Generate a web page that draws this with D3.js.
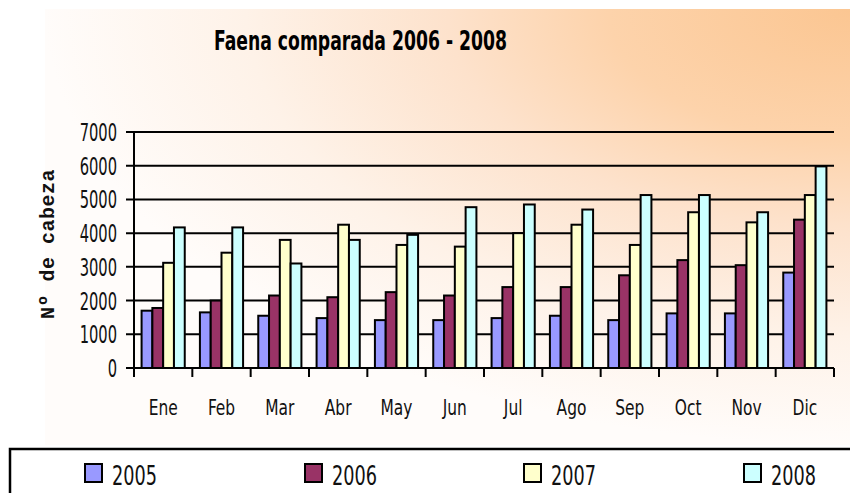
<!DOCTYPE html>
<html>
<head>
<meta charset="utf-8">
<style>
  body { margin: 0; background: #fff; }
  svg { display: block; }
  .narrow { font-family: "Liberation Sans Narrow", "DejaVu Sans Condensed", "Liberation Sans", sans-serif; }
</style>
</head>
<body>
<script src="https://d3js.org/d3.v7.min.js"></script>
<script>
// data
var months = ["Ene", "Feb", "Mar", "Abr", "May", "Jun", "Jul", "Ago", "Sep", "Oct", "Nov", "Dic"];
var years = ["2005", "2006", "2007", "2008"];
var v2005 = [1700, 1650, 1550, 1480, 1420, 1420, 1480, 1550, 1420, 1620, 1620, 2830];
var v2006 = [1780, 2000, 2150, 2100, 2250, 2150, 2400, 2400, 2750, 3200, 3050, 4400];
var v2007 = [3120, 3420, 3800, 4250, 3650, 3600, 4000, 4250, 3650, 4620, 4320, 5130];
var v2008 = [4170, 4170, 3100, 3800, 3950, 4770, 4850, 4700, 5130, 5130, 4620, 5980];
var yTicks = [0, 1000, 2000, 3000, 4000, 5000, 6000, 7000];
var colors = ["#9999ff", "#993366", "#ffffcc", "#ccffff"];

var series = [v2005, v2006, v2007, v2008];

var W = 850, H = 493;
var svg = d3.select("body").append("svg")
    .attr("width", W)
    .attr("height", H);

// background gradient (orange in the top right corner)
var defs = svg.append("defs");
var grad = defs.append("radialGradient")
    .attr("id", "bg")
    .attr("cx", 1).attr("cy", 0).attr("r", 1)
    .attr("fx", 1).attr("fy", 0);
grad.append("stop").attr("offset", 0).attr("stop-color", "#fbc692");
grad.append("stop").attr("offset", 0.3).attr("stop-color", "#fdd3ab");
grad.append("stop").attr("offset", 0.5).attr("stop-color", "#fde2cc");
grad.append("stop").attr("offset", 0.75).attr("stop-color", "#fef2e8");
grad.append("stop").attr("offset", 1).attr("stop-color", "#fffcfa");

svg.append("rect")
    .attr("x", 45).attr("y", 9)
    .attr("width", W - 45).attr("height", 436)
    .attr("fill", "url(#bg)");

// scales
var x0 = d3.scaleBand()
    .domain(months)
    .range([134, 834])
    .paddingInner(0.26)
    .paddingOuter(0.13);
var x1 = d3.scaleBand()
    .domain(years)
    .range([0, x0.bandwidth()]);
var y = d3.scaleLinear()
    .domain([0, 7000])
    .range([368, 132]);

var step = x0.step();

// gridlines
svg.append("g").selectAll("line")
    .data(yTicks)
    .enter().append("line")
    .attr("x1", 126).attr("x2", 834)
    .attr("y1", function(d) { return y(d); })
    .attr("y2", function(d) { return y(d); })
    .attr("stroke", "#000")
    .attr("stroke-width", 2);

// bars
var groups = svg.append("g").selectAll("g")
    .data(months)
    .enter().append("g")
    .attr("transform", function(d) { return "translate(" + x0(d) + ",0)"; });

groups.selectAll("rect")
    .data(function(d, i) {
        return years.map(function(yr, k) { return { year: yr, value: series[k][i], k: k }; });
    })
    .enter().append("rect")
    .attr("x", function(d) { return x1(d.year); })
    .attr("y", function(d) { return y(d.value); })
    .attr("width", x1.bandwidth())
    .attr("height", function(d) { return y(0) - y(d.value); })
    .attr("fill", function(d) { return colors[d.k]; })
    .attr("stroke", "#000")
    .attr("stroke-width", 2);

// y axis line + category ticks
svg.append("line")
    .attr("x1", 134).attr("x2", 134)
    .attr("y1", y(7000)).attr("y2", y(0) + 9)
    .attr("stroke", "#000").attr("stroke-width", 2);

svg.append("g").selectAll("line")
    .data(d3.range(months.length + 1))
    .enter().append("line")
    .attr("x1", function(i) { return 134 + i * step; })
    .attr("x2", function(i) { return 134 + i * step; })
    .attr("y1", y(0)).attr("y2", y(0) + 9)
    .attr("stroke", "#000").attr("stroke-width", 2);

// y tick labels (tall, squeezed digits)
svg.append("g").selectAll("text")
    .data(yTicks)
    .enter().append("text")
    .attr("class", "narrow")
    .attr("transform", function(d) { return "translate(117," + (y(d) + 9) + ") scale(0.68,1)"; })
    .attr("text-anchor", "end")
    .attr("font-size", 24)
    .attr("fill", "#111")
    .text(function(d) { return d; });

// month labels
svg.append("g").selectAll("text")
    .data(months)
    .enter().append("text")
    .attr("class", "narrow")
    .attr("transform", function(d) { return "translate(" + (x0(d) + x0.bandwidth() / 2) + ",415) scale(0.78,1)"; })
    .attr("text-anchor", "middle")
    .attr("font-size", 22)
    .attr("fill", "#111")
    .text(function(d) { return d; });

// y axis title
svg.append("text")
    .attr("transform", "translate(54,244) rotate(-90)")
    .attr("text-anchor", "middle")
    .attr("font-family", "Liberation Mono, DejaVu Sans Mono, monospace")
    .attr("font-weight", "bold")
    .attr("font-size", 20)
    .attr("letter-spacing", 0.5)
    .attr("fill", "#111")
    .text("Nº de cabeza");

// title
svg.append("text")
    .attr("class", "narrow")
    .attr("x", 214).attr("y", 50)
    .attr("font-size", 26)
    .attr("font-weight", "bold")
    .attr("textLength", 293)
    .attr("lengthAdjust", "spacingAndGlyphs")
    .attr("fill", "#000")
    .text("Faena comparada 2006 - 2008");

// legend
svg.append("rect")
    .attr("x", 10).attr("y", 449)
    .attr("width", W).attr("height", 60)
    .attr("fill", "#fff")
    .attr("stroke", "#000")
    .attr("stroke-width", 2.5);

var legX = [84, 304, 523, 743];
var leg = svg.append("g").selectAll("g")
    .data(years)
    .enter().append("g")
    .attr("transform", function(d, i) { return "translate(" + legX[i] + ",0)"; });

leg.append("rect")
    .attr("x", 1).attr("y", 464)
    .attr("width", 17).attr("height", 18)
    .attr("fill", function(d, i) { return colors[i]; })
    .attr("stroke", "#000")
    .attr("stroke-width", 2);

leg.append("text")
    .attr("class", "narrow")
    .attr("x", 28).attr("y", 485)
    .attr("font-size", 26)
    .attr("textLength", 45)
    .attr("lengthAdjust", "spacingAndGlyphs")
    .attr("fill", "#111")
    .text(function(d) { return d; });
</script>
</body>
</html>
